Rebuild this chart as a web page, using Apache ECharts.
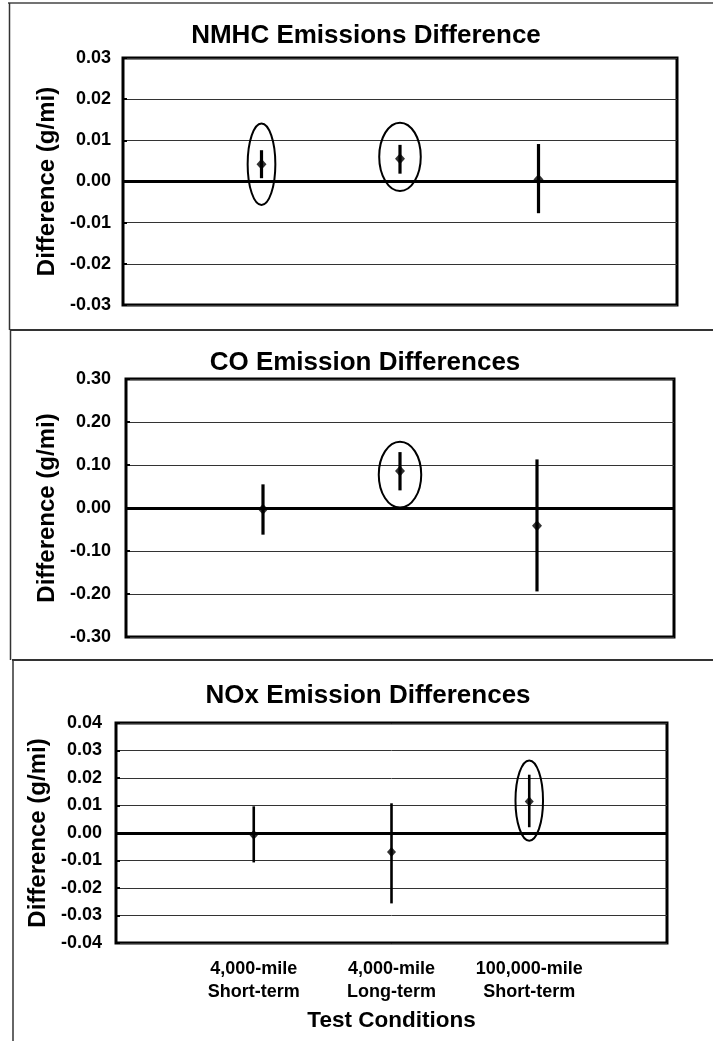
<!DOCTYPE html>
<html><head><meta charset="utf-8">
<script src="https://cdn.jsdelivr.net/npm/echarts@6/dist/echarts.min.js"></script>
<style>html,body{margin:0;padding:0;background:#fff}#c{width:713px;height:1041px}</style>
</head><body><div id="c"></div>
<script>
// ---- data ----
const categories = ['4,000-mile\nShort-term', '4,000-mile\nLong-term', '100,000-mile\nShort-term'];
const categoryPositions = [1, 2, 3];
const panelTitles = ['NMHC Emissions Difference', 'CO Emission Differences', 'NOx Emission Differences'];
const yAxisName = 'Difference (g/mi)';
const xAxisName = 'Test Conditions';

const nmhcMean = [0.0042, 0.0055, 0.0005];
const nmhcLow  = [0.0008, 0.0019, -0.0077];
const nmhcHigh = [0.0076, 0.0089, 0.0091];

const coMean = [-0.003, 0.086, -0.041];
const coLow  = [-0.062, 0.041, -0.194];
const coHigh = [0.055, 0.130, 0.113];

const noxMean = [-0.0006, -0.0069, 0.0115];
const noxLow  = [-0.0107, -0.0256, 0.0021];
const noxHigh = [0.0097, 0.0108, 0.0212];

// y axis [min, max, interval]
const nmhcAxis = [-0.03, 0.03, 0.01];
const coAxis   = [-0.30, 0.30, 0.10];
const noxAxis  = [-0.04, 0.04, 0.01];

// circled (significant) results: [position, centre value, half height (value), half width (category steps)]
const nmhcCircled = [[1, 0.0042, 0.0099, 0.10], [2, 0.0060, 0.0083, 0.15]];
const coCircled   = [[2, 0.0775, 0.0765, 0.155]];
const noxCircled  = [[3, 0.0118, 0.0146, 0.10]];

// ---- chart ----
const FONT = "'Liberation Sans', Arial, Helvetica, sans-serif";
const chart = echarts.init(document.getElementById('c'), null, {renderer: 'canvas'});

const grids = [
  {left: 123, top: 58, width: 554, height: 247},
  {left: 126, top: 379, width: 548, height: 258},
  {left: 116, top: 723, width: 551, height: 220}
];
const axes = [nmhcAxis, coAxis, noxAxis];
const labelMargins = [12, 15, 14];
const nameGaps = [62, 66, 64];
const barWidths = [3.2, 3.2, 2.6];
const means = [nmhcMean, coMean, noxMean];
const lows = [nmhcLow, coLow, noxLow];
const highs = [nmhcHigh, coHigh, noxHigh];
const circled = [nmhcCircled, coCircled, noxCircled];

function fmt(v) { return Math.abs(v) < 1e-9 ? '0.00' : v.toFixed(2); }

const option = {
  animation: false,
  backgroundColor: '#fff',
  title: [
    {text: panelTitles[0], left: 361, top: 18},
    {text: panelTitles[1], left: 360, top: 345},
    {text: panelTitles[2], left: 363, top: 678}
  ].map(t => Object.assign(t, {textAlign: 'center', textStyle: {fontFamily: FONT, fontSize: 26, fontWeight: 'bold', color: '#000'}})),
  grid: grids.map(g => Object.assign({show: true, borderColor: '#000', borderWidth: 3, backgroundColor: 'transparent', containLabel: false, outerBoundsMode: 'none'}, g)),
  xAxis: grids.map((g, i) => ({
    type: 'value', gridIndex: i, min: 0, max: 4, interval: 1,
    axisLine: {show: false}, axisTick: {show: false}, splitLine: {show: false},
    axisLabel: {
      show: i === 2, margin: 15, interval: 0,
      formatter: v => categories[v - 1] || '',
      fontFamily: FONT, fontSize: 18, fontWeight: 'bold', color: '#000', lineHeight: 23
    },
    name: i === 2 ? xAxisName : '', nameLocation: 'middle', nameGap: 66,
    nameTextStyle: {fontFamily: FONT, fontSize: 22.5, fontWeight: 'bold', color: '#000'}
  })),
  yAxis: grids.map((g, i) => ({
    type: 'value', gridIndex: i, min: axes[i][0], max: axes[i][1], interval: axes[i][2],
    axisLine: {show: false},
    axisTick: {show: true, inside: true, length: 4, lineStyle: {color: '#000', width: 2}},
    splitLine: {show: true, lineStyle: {color: '#333', width: 1}},
    axisLabel: {margin: labelMargins[i], formatter: fmt, fontFamily: FONT, fontSize: 18, fontWeight: 'bold', color: '#000'},
    name: yAxisName, nameLocation: 'middle', nameGap: nameGaps[i],
    nameTextStyle: {fontFamily: FONT, fontSize: 24, fontWeight: 'bold', color: '#000'}
  })),
  series: [],
  graphic: [
    {type: 'line', shape: {x1: 8, y1: 3, x2: 713, y2: 3}, style: {stroke: '#444', lineWidth: 1.5}, silent: true},
    {type: 'line', shape: {x1: 10, y1: 330, x2: 713, y2: 330}, style: {stroke: '#333', lineWidth: 2}, silent: true},
    {type: 'line', shape: {x1: 12, y1: 660, x2: 713, y2: 660}, style: {stroke: '#333', lineWidth: 2}, silent: true},
    {type: 'line', shape: {x1: 9.5, y1: 3, x2: 9.5, y2: 330}, style: {stroke: '#333', lineWidth: 1.5}, silent: true},
    {type: 'line', shape: {x1: 10.5, y1: 330, x2: 10.5, y2: 660}, style: {stroke: '#333', lineWidth: 1.5}, silent: true},
    {type: 'line', shape: {x1: 13, y1: 660, x2: 13, y2: 1041}, style: {stroke: '#333', lineWidth: 1.5}, silent: true}
  ]
};

for (let i = 0; i < 3; i++) {
  const bw = barWidths[i];
  option.series.push({
    type: 'custom', xAxisIndex: i, yAxisIndex: i, silent: true, z: 3,
    data: categoryPositions.map((p, k) => [p, lows[i][k], highs[i][k]]),
    encode: {x: 0, y: [1, 2]},
    renderItem: function (params, api) {
      const a = api.coord([api.value(0), api.value(1)]);
      const b = api.coord([api.value(0), api.value(2)]);
      return {type: 'line', shape: {x1: a[0], y1: a[1], x2: b[0], y2: b[1]}, style: {stroke: '#000', lineWidth: bw}};
    }
  });
  option.series.push({
    type: 'scatter', xAxisIndex: i, yAxisIndex: i, silent: true, z: 4,
    symbol: 'diamond', symbolSize: i === 2 ? [9, 10] : [10, 11],
    itemStyle: {color: '#000'},
    data: categoryPositions.map((p, k) => [p, means[i][k]]),
    markLine: {
      silent: true, symbol: 'none', label: {show: false}, animation: false,
      lineStyle: {color: '#000', width: 3, type: 'solid'},
      emphasis: {disabled: true},
      data: [{yAxis: 0}]
    }
  });
  option.series.push({
    type: 'custom', xAxisIndex: i, yAxisIndex: i, silent: true, z: 5,
    data: circled[i],
    encode: {x: 0, y: 1},
    renderItem: function (params, api) {
      const x = api.value(0), yc = api.value(1), hh = api.value(2), hw = api.value(3);
      const c = api.coord([x, yc]);
      const t = api.coord([x, yc + hh]);
      const r = api.coord([x + hw, yc]);
      return {type: 'ellipse', shape: {cx: c[0], cy: c[1], rx: Math.abs(r[0] - c[0]), ry: Math.abs(c[1] - t[1])},
              style: {fill: 'transparent', stroke: '#000', lineWidth: 2}};
    }
  });
}

chart.setOption(option);
</script>
</body></html>
